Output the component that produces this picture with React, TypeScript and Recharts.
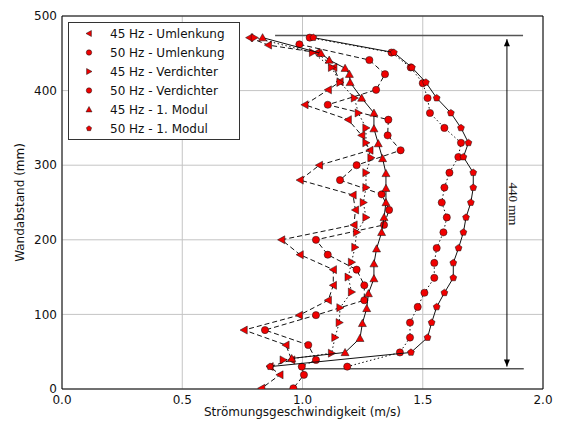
import React from 'react'
import {
  CartesianGrid,
  Legend,
  ReferenceDot,
  ReferenceLine,
  Scatter,
  ScatterChart,
  XAxis,
  YAxis,
} from 'recharts'

// axis ticks
const xTicks = [0, 0.5, 1.0, 1.5, 2.0]
const yTicks = [0, 100, 200, 300, 400, 500]

// 45 Hz - Umlenkung (speed m/s, wall distance mm)
const u45Speed = [0.78, 0.858, 1.06, 1.13, 1.156, 1.107, 1.01, 1.19, 1.246, 1.28, 1.07, 0.99, 1.21, 1.22, 1.214, 0.913, 0.99, 1.128, 1.128, 1.107, 0.987, 0.757, 0.931, 0.955, 0.865, 0.906, 0.83]
const u45Dist = [471, 461, 451, 431, 412, 401, 381, 361, 340, 320, 300, 280, 260, 240, 220, 200, 180, 160, 139, 119, 99, 79, 59, 39, 30, 19, 1]

// 50 Hz - Umlenkung
const u50Speed = [0.987, 1.278, 1.343, 1.306, 1.105, 1.357, 1.354, 1.408, 1.225, 1.156, 1.329, 1.36, 1.339, 1.056, 1.105, 1.225, 1.257, 1.257, 1.056, 0.844, 1.024, 1.056, 0.997, 1.006, 0.962]
const u50Dist = [462, 441, 422, 401, 381, 361, 340, 320, 300, 280, 261, 240, 220, 200, 180, 160, 139, 119, 99, 79, 59, 39, 30, 19, 1]

// 45 Hz - Verdichter
const v45Speed = [0.8, 1.042, 1.121, 1.156, 1.216, 1.232, 1.264, 1.264, 1.285, 1.264, 1.264, 1.253, 1.264, 1.225, 1.218, 1.204, 1.19, 1.204, 1.156, 1.153, 1.135, 1.121, 0.92]
const v45Dist = [471, 451, 431, 411, 390, 370, 350, 330, 310, 290, 270, 250, 230, 210, 190, 170, 150, 130, 109, 89, 69, 48, 39]

// 50 Hz - Verdichter
const v50Speed = [1.03, 1.37, 1.45, 1.5, 1.52, 1.53, 1.59, 1.659, 1.648, 1.611, 1.59, 1.579, 1.6, 1.586, 1.558, 1.548, 1.548, 1.507, 1.479, 1.447, 1.447, 1.405, 1.186]
const v50Dist = [471, 451, 431, 410, 390, 370, 350, 330, 311, 290, 270, 250, 230, 210, 189, 169, 149, 129, 110, 89, 69, 49, 30]

// 45 Hz - 1. Modul
const m45Speed = [0.834, 1.077, 1.111, 1.177, 1.195, 1.198, 1.246, 1.297, 1.297, 1.315, 1.333, 1.347, 1.347, 1.347, 1.339, 1.329, 1.308, 1.297, 1.297, 1.274, 1.267, 1.249, 1.239, 1.177, 0.955]
const m45Dist = [471, 450, 441, 430, 422, 411, 390, 370, 349, 329, 309, 289, 269, 250, 230, 210, 188, 168, 148, 128, 108, 88, 68, 49, 41]

// 50 Hz - 1. Modul
const m50Speed = [1.045, 1.38, 1.455, 1.513, 1.558, 1.617, 1.659, 1.69, 1.669, 1.71, 1.71, 1.7, 1.68, 1.669, 1.649, 1.627, 1.627, 1.59, 1.558, 1.537, 1.52, 1.451, 0.865]
const m50Dist = [471, 451, 431, 411, 390, 370, 350, 330, 311, 290, 270, 250, 230, 210, 189, 169, 149, 129, 110, 89, 69, 49, 30]

// measuring section annotation
const sectionTop = 474
const sectionBottom = 27
const arrowTop = 469
const arrowBottom = 30

type Kind = 'left' | 'right' | 'up' | 'circle' | 'pent'

const RED = '#f00000'

function marker(kind: Kind, cx: number, cy: number, s = 1) {
  const common = { fill: RED, stroke: '#111', strokeWidth: 0.5 }
  const r = 4 * s
  if (kind === 'circle') return <circle cx={cx} cy={cy} r={3.6 * s} {...common} />
  if (kind === 'pent') {
    const pts = [0, 1, 2, 3, 4]
      .map((k) => {
        const a = ((-90 + 72 * k) * Math.PI) / 180
        return `${cx + 3.6 * s * Math.cos(a)},${cy + 3.6 * s * Math.sin(a)}`
      })
      .join(' ')
    return <polygon points={pts} {...common} />
  }
  if (kind === 'left')
    return <polygon points={`${cx - r},${cy} ${cx + r * 0.8},${cy - r} ${cx + r * 0.8},${cy + r}`} {...common} />
  if (kind === 'right')
    return <polygon points={`${cx + r},${cy} ${cx - r * 0.8},${cy - r} ${cx - r * 0.8},${cy + r}`} {...common} />
  return <polygon points={`${cx},${cy - r} ${cx - r},${cy + r * 0.8} ${cx + r},${cy + r * 0.8}`} {...common} />
}

const DASHED = '5 3'
const DOTTED = '1.5 2.5'

const toPoints = (xs: number[], ys: number[]) => xs.map((x, i) => ({ x, y: ys[i] }))

const series = [
  { name: '45 Hz - Umlenkung', kind: 'left' as Kind, dash: DASHED, data: toPoints(u45Speed, u45Dist) },
  { name: '50 Hz - Umlenkung', kind: 'circle' as Kind, dash: DASHED, data: toPoints(u50Speed, u50Dist) },
  { name: '45 Hz - Verdichter', kind: 'right' as Kind, dash: DOTTED, data: toPoints(v45Speed, v45Dist) },
  { name: '50 Hz - Verdichter', kind: 'circle' as Kind, dash: DOTTED, data: toPoints(v50Speed, v50Dist) },
  { name: '45 Hz - 1. Modul', kind: 'up' as Kind, dash: undefined, data: toPoints(m45Speed, m45Dist) },
  { name: '50 Hz - 1. Modul', kind: 'pent' as Kind, dash: undefined, data: toPoints(m50Speed, m50Dist) },
]

const FONT = '"DejaVu Sans", sans-serif'

function renderLegend() {
  return (
    <div
      style={{
        width: 172,
        boxSizing: 'border-box',
        border: '1px solid #333',
        background: '#fff',
        padding: '1px 0',
        fontFamily: FONT,
        fontSize: 12,
        color: '#111',
      }}
    >
      {series.map((s) => (
        <div key={s.name} style={{ display: 'flex', alignItems: 'center', height: 19 }}>
          <svg width={41} height={19} style={{ display: 'block' }}>
            {marker(s.kind, 20, 9.5, 0.75)}
          </svg>
          <span>{s.name}</span>
        </div>
      ))}
    </div>
  )
}

function ArrowLine(props: any) {
  const { x1, y1, x2, y2 } = props
  const dir = y2 < y1 ? -1 : 1
  const h = 7
  const w = 3
  return (
    <g>
      <line x1={x1} y1={y1} x2={x2} y2={y2} stroke="#000" strokeWidth={1} />
      <polygon points={`${x2},${y2} ${x2 - w},${y2 - dir * h} ${x2 + w},${y2 - dir * h}`} fill="#000" />
      <polygon points={`${x1},${y1} ${x1 - w},${y1 + dir * h} ${x1 + w},${y1 + dir * h}`} fill="#000" />
    </g>
  )
}

export default function App() {
  return (
    <div style={{ position: 'absolute', left: 0, top: 0, background: '#fff' }}>
      <ScatterChart width={564} height={430} margin={{ top: 16, right: 21, bottom: 11, left: 0 }}>
        <CartesianGrid stroke="#c4c4c4" strokeWidth={1} />
        <XAxis
          type="number"
          dataKey="x"
          domain={[0, 2]}
          ticks={xTicks}
          allowDataOverflow
          height={30}
          tickSize={0}
          tickMargin={6}
          tickFormatter={(v: number) => v.toFixed(1)}
          tick={{ fontSize: 12, fill: '#111', fontFamily: FONT }}
          axisLine={{ stroke: '#000' }}
          label={{
            content: ({ viewBox }: any) => (
              <text
                x={viewBox.x + viewBox.width / 2}
                y={viewBox.y + 27}
                textAnchor="middle"
                fontSize={12}
                fontFamily={FONT}
                fill="#111"
              >
                Strömungsgeschwindigkeit (m/s)
              </text>
            ),
          }}
        />
        <YAxis
          type="number"
          dataKey="y"
          domain={[0, 500]}
          ticks={yTicks}
          allowDataOverflow
          width={62}
          tickSize={0}
          tickMargin={5}
          tick={{ fontSize: 12, fill: '#111', fontFamily: FONT }}
          axisLine={{ stroke: '#000' }}
          label={{
            content: ({ viewBox }: any) => {
              const x = viewBox.x + 24
              const y = viewBox.y + viewBox.height / 2
              return (
                <text
                  x={x}
                  y={y}
                  transform={`rotate(-90 ${x} ${y})`}
                  textAnchor="middle"
                  fontSize={12}
                  fontFamily={FONT}
                  fill="#111"
                >
                  Wandabstand (mm)
                </text>
              )
            },
          }}
        />
        <ReferenceLine x={2} stroke="#000" />
        <ReferenceLine y={500} stroke="#000" />
        <ReferenceLine
          segment={[
            { x: 0.886, y: sectionTop },
            { x: 1.917, y: sectionTop },
          ]}
          stroke="#555"
          strokeWidth={1.5}
        />
        <ReferenceLine
          segment={[
            { x: 0.99, y: sectionBottom },
            { x: 1.92, y: sectionBottom },
          ]}
          stroke="#555"
          strokeWidth={1.5}
        />
        <ReferenceLine
          segment={[
            { x: 1.85, y: arrowBottom },
            { x: 1.85, y: arrowTop },
          ]}
          shape={ArrowLine}
        />
        <ReferenceDot
          x={1.878}
          y={248}
          r={0}
          shape={({ cx, cy }: any) => (
            <text
              x={cx}
              y={cy}
              transform={`rotate(90 ${cx} ${cy})`}
              textAnchor="middle"
              dominantBaseline="central"
              fontSize={13}
              fontFamily='"Liberation Serif", serif'
              fill="#111"
            >
              440 mm
            </text>
          )}
        />
        {series.map((s) => (
          <Scatter
            key={s.name}
            name={s.name}
            data={s.data}
            isAnimationActive={false}
            line={{ stroke: '#111', strokeWidth: 1, strokeDasharray: s.dash }}
            lineType="joint"
            shape={(p: any) => marker(s.kind, p.cx, p.cy)}
          />
        ))}
        <Legend
          layout="vertical"
          align="center"
          verticalAlign="middle"
          content={renderLegend}
          wrapperStyle={{ left: 68, top: 22, width: 172 }}
        />
      </ScatterChart>
    </div>
  )
}
